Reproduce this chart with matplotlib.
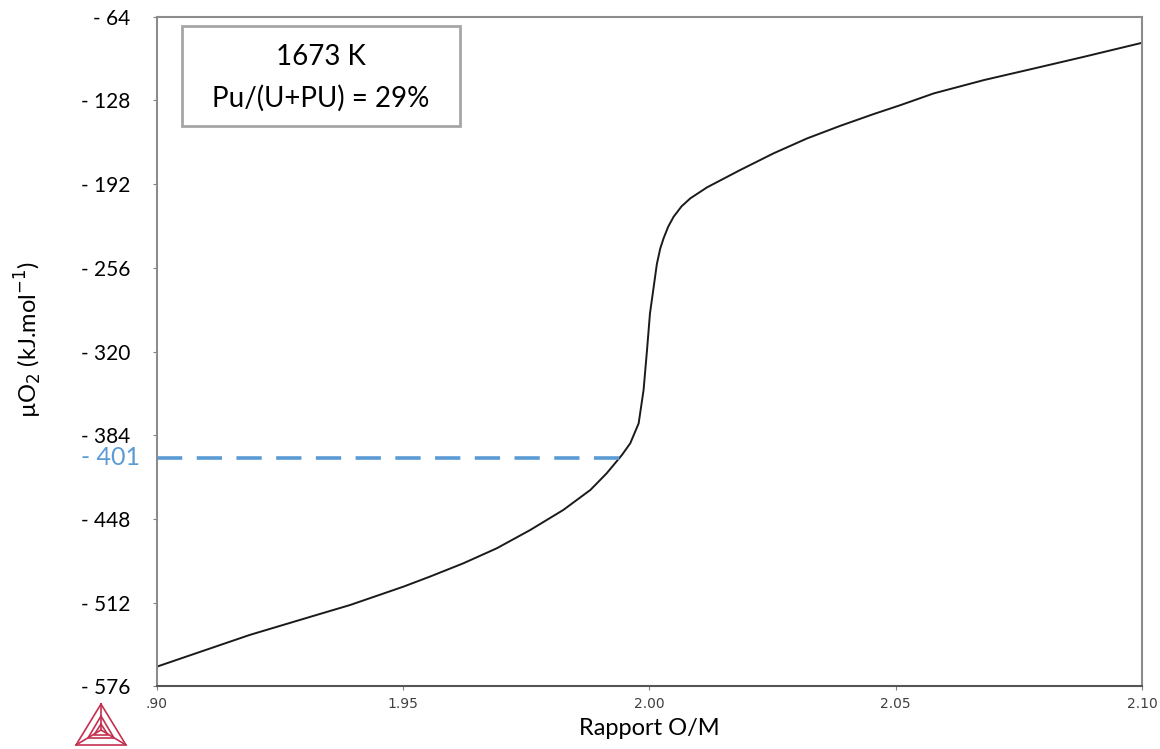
import matplotlib
matplotlib.use('Agg')
import matplotlib.pyplot as plt
from matplotlib.ticker import FuncFormatter
from matplotlib.lines import Line2D
from matplotlib.patches import Rectangle

plt.rcParams['font.family'] = ['Lato', 'DejaVu Sans']

# rapport O/M et potentiel chimique de l'oxygène (kJ/mol)
om = [1.9000, 1.9188, 1.9324, 1.9392, 1.9500, 1.9554, 1.9622, 1.9690,
      1.9758, 1.9825, 1.9880, 1.9913, 1.9944, 1.9961, 1.9978, 1.9988,
      1.9995, 2.0001, 2.0008, 2.0015, 2.0022, 2.0029, 2.0038, 2.0049,
      2.0065, 2.0083, 2.0117, 2.0184, 2.0252, 2.0320, 2.0388, 2.0455,
      2.0510, 2.0577, 2.0679, 2.0781, 2.0882, 2.1000]
mu_o2 = [-560.9, -536.7, -521.4, -513.8, -499.8, -492.1, -481.9, -470.4,
         -456.4, -441.1, -425.8, -413.1, -399.1, -390.1, -374.9, -349.4,
         -318.8, -290.8, -272.0, -253.0, -241.0, -233.0, -224.5, -216.9,
         -209.0, -202.8, -194.4, -181.2, -168.4, -157.0, -147.3, -138.4,
         -131.5, -122.6, -112.4, -103.5, -94.6, -83.9]

mu_ref = -401
om_ref = 1.9953
yticks = [-576, -512, -448, -384, -320, -256, -192, -128, -64]
xticks = [1.90, 1.95, 2.00, 2.05, 2.10]
xlabels = ['.90', '1.95', '2.00', '2.05', '2.10']

fig = plt.figure(figsize=(11.6, 7.49), dpi=100)
ax = fig.add_axes([0.1353, 0.0836, 0.8492, 0.894])

ax.plot(om, mu_o2, color='#1a1a1a', lw=1.4)
ax.plot([1.90, om_ref], [mu_ref, mu_ref], color='#5B9BD5', lw=2.6,
        dashes=(7, 4), solid_capstyle='butt')

ax.set_xlim(1.90, 2.10)
ax.set_ylim(-576, -64)
ax.set_yticks(yticks)
ax.yaxis.set_major_formatter(FuncFormatter(lambda v, p: '- %d' % abs(v)))
ax.set_xticks(xticks)
ax.set_xticklabels(xlabels, fontsize=10, color='#404040', family='DejaVu Sans')
ax.tick_params(axis='y', labelsize=15, length=3, color='#808080', pad=16)
ax.tick_params(axis='x', length=3, color='#808080', pad=5)

for s in ['top', 'right', 'left']:
    ax.spines[s].set_color('#8c8c8c')
    ax.spines[s].set_linewidth(1.5)
ax.spines['bottom'].set_color('#555555')
ax.spines['bottom'].set_linewidth(1.5)

# étiquette du niveau -401
ax.text(-0.017, mu_ref, '- 401', transform=ax.get_yaxis_transform(),
        ha='right', va='center', fontsize=18, color='#5B9BD5')

ax.set_xlabel('Rapport O/M', fontsize=17, labelpad=5)
fig.text(0.024, 0.546, r'µO$_2$ (kJ.mol$^{-1}$)', rotation=90,
         ha='center', va='center', fontsize=17)

# encadré des conditions
ax.add_patch(Rectangle((0.0251, 0.837), 0.2825, 0.149, transform=ax.transAxes,
                       fc='white', ec='#a6a6a6', lw=2, zorder=3))
ax.text(0.166, 0.940, '1673 K', transform=ax.transAxes,
        ha='center', va='center', fontsize=20, zorder=4)
ax.text(0.166, 0.879, 'Pu/(U+PU) = 29%', transform=ax.transAxes,
        ha='center', va='center', fontsize=20, zorder=4)

# logo Thermo-Calc
W, H = 1160, 749
def fl(xs, ys):
    fig.add_artist(Line2D([x / W for x in xs], [1 - y / H for y in ys],
                          color='#C4304F', lw=1.2, transform=fig.transFigure))
fl([101, 76, 126, 101], [704, 745, 745, 704])
fl([101, 88, 114, 101], [716, 738, 738, 716])
fl([101, 101], [704, 730])
fl([76, 101], [745, 730])
fl([126, 101], [745, 730])
fl([101, 94, 108, 101], [724, 735, 735, 724])

fig.savefig('out.png', dpi=100)
